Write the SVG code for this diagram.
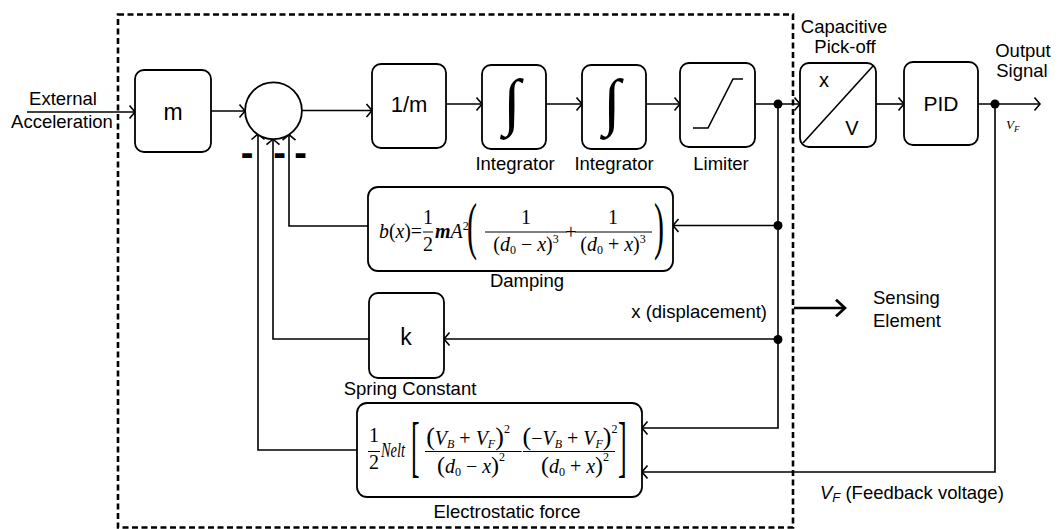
<svg xmlns="http://www.w3.org/2000/svg" width="1060" height="529" viewBox="0 0 1060 529">
<defs>
<style>
.ln{fill:none;stroke:#000;stroke-width:1.6}
.bx{fill:#fff;stroke:#000;stroke-width:1.8}
.t{font-family:"Liberation Sans",Arial,sans-serif;font-size:18.5px;fill:#000}
.tb{font-family:"Liberation Sans",Arial,sans-serif;font-size:22px;fill:#000;text-anchor:middle}
.m{font-family:"Liberation Serif","Times New Roman",serif;font-size:20px;fill:#000}
.i{font-style:italic}
.c{text-anchor:middle}
.bar{stroke:#000;stroke-width:1}
.dot{fill:#000}
.mn{font-family:"Liberation Sans",Arial,sans-serif;font-weight:bold;font-size:38px;text-anchor:middle}
.int{font-family:"Liberation Serif","Times New Roman",serif;font-size:63px;text-anchor:middle}
</style>
<marker id="ar" viewBox="-7 -8 9 16" markerWidth="9" markerHeight="16" refX="0" refY="0" orient="auto" markerUnits="userSpaceOnUse"><path d="M-5.5,-6.5 L0,0 L-5.5,6.5" fill="none" stroke="#000" stroke-width="1.6"/></marker>
<marker id="arb" viewBox="-11 -10 13 20" markerWidth="13" markerHeight="20" refX="0" refY="0" orient="auto" markerUnits="userSpaceOnUse"><path d="M-9,-8.3 L0,0 L-9,8.3" fill="none" stroke="#000" stroke-width="2.7"/></marker>
</defs>
<rect width="1060" height="529" fill="#fff"/>

<g id="boundary">
<rect x="118" y="14.5" width="675" height="513" fill="none" stroke="#000" stroke-width="2.6" stroke-dasharray="6 3.5"/>
</g>

<g id="connectors">
<line class="ln" x1="27" y1="112" x2="135" y2="112" marker-end="url(#ar)"/>
<line class="ln" x1="211" y1="111" x2="245" y2="111" marker-end="url(#ar)"/>
<line class="ln" x1="302" y1="110.5" x2="372" y2="110.5" marker-end="url(#ar)"/>
<line class="ln" x1="446" y1="104" x2="482" y2="104" marker-end="url(#ar)"/>
<line class="ln" x1="546" y1="104" x2="582" y2="104" marker-end="url(#ar)"/>
<line class="ln" x1="646" y1="104" x2="680" y2="104" marker-end="url(#ar)"/>
<line class="ln" x1="755" y1="104" x2="800" y2="104" marker-end="url(#ar)"/>
<line class="ln" x1="876" y1="104" x2="904" y2="104" marker-end="url(#ar)"/>
<line class="ln" x1="978" y1="104" x2="1040" y2="104" marker-end="url(#ar)"/>
<polyline class="ln" points="778,104 778,428 642,428" marker-end="url(#ar)"/>
<line class="ln" x1="778" y1="225.5" x2="673" y2="225.5" marker-end="url(#ar)"/>
<polyline class="ln" points="368,226 289,226 289,134.6" marker-end="url(#ar)"/>
<line class="ln" x1="778" y1="339" x2="444" y2="339" marker-end="url(#ar)"/>
<polyline class="ln" points="369,339 273,339 273,139.2" marker-end="url(#ar)"/>
<polyline class="ln" points="357,450 258,450 258,134" marker-end="url(#ar)"/>
<polyline class="ln" points="995,104 995,472 642,472" marker-end="url(#ar)"/>
<circle class="dot" cx="778" cy="104" r="4.5"/>
<circle class="dot" cx="778" cy="225.5" r="4.5"/>
<circle class="dot" cx="778" cy="339.5" r="4.5"/>
<circle class="dot" cx="995" cy="104" r="4.5"/>
</g>

<g id="external-acceleration">
<text class="t c" x="63" y="105">External</text>
<text class="t c" x="62" y="128">Acceleration</text>
</g>

<g id="mass">
<rect class="bx" x="135" y="70" width="76" height="82" rx="9"/>
<text class="tb" x="173" y="120" style="font-size:23px">m</text>
</g>

<g id="summing-junction">
<circle cx="273.5" cy="110.8" r="28.4" fill="#fff" stroke="#000" stroke-width="1.8"/>
<text class="mn" x="247" y="166">-</text>
<text class="mn" x="279.5" y="166">-</text>
<text class="mn" x="300.5" y="166">-</text>
</g>

<g id="inverse-mass">
<rect class="bx" x="372" y="64" width="74" height="84" rx="9"/>
<text class="tb" x="409" y="112">1/m</text>
</g>

<g id="integrator-1">
<rect class="bx" x="482" y="65" width="64" height="84" rx="9"/>
<text class="int" x="512" y="122.5">∫</text>
<text class="t c" x="515" y="170">Integrator</text>
</g>

<g id="integrator-2">
<rect class="bx" x="582" y="65" width="64" height="84" rx="9"/>
<text class="int" x="612" y="122.5">∫</text>
<text class="t c" x="614" y="170">Integrator</text>
</g>

<g id="limiter">
<rect class="bx" x="680" y="63" width="75" height="84" rx="9"/>
<path class="ln" d="M693,128 H708 L733,79 H743"/>
<text class="t c" x="721" y="170">Limiter</text>
</g>

<g id="capacitive-pickoff">
<rect class="bx" x="800" y="63" width="76" height="84" rx="9"/>
<line class="ln" x1="803" y1="143" x2="873" y2="66"/>
<text class="tb" x="824" y="87" style="font-size:20px">x</text>
<text class="tb" x="852" y="135" style="font-size:20px">V</text>
<text class="t c" x="844" y="33">Capacitive</text>
<text class="t c" x="845" y="53">Pick-off</text>
</g>

<g id="pid">
<rect class="bx" x="904" y="62" width="74" height="83" rx="9"/>
<text class="tb" x="941" y="111" style="font-size:21px">PID</text>
</g>

<g id="output-signal">
<text class="t c" x="1023" y="57">Output</text>
<text class="t c" x="1022" y="77">Signal</text>
<text class="m i" x="1006" y="129" style="font-size:13px">V<tspan font-size="9" dy="3">F</tspan></text>
</g>

<g id="damping">
<rect class="bx" x="368" y="187" width="305" height="84" rx="10"/>
<text class="m" x="379" y="238" textLength="43" lengthAdjust="spacingAndGlyphs"><tspan class="i">b</tspan>(<tspan class="i">x</tspan>)=</text>
<text class="m c" x="428" y="224">1</text>
<line class="bar" x1="423" y1="232" x2="433" y2="232"/>
<text class="m c" x="428" y="251">2</text>
<text class="m" x="435" y="238"><tspan class="i" font-weight="bold">m</tspan><tspan class="i">A</tspan><tspan font-size="12" dy="-8">2</tspan></text>
<text class="m" transform="translate(467,246.5) scale(1.5,3.2)">(</text>
<text class="m c" x="526" y="224">1</text>
<line class="bar" x1="485" y1="232" x2="567" y2="232"/>
<text class="m c" x="526" y="251">(<tspan class="i">d</tspan><tspan font-size="12" dy="3">0</tspan><tspan dy="-3"> − </tspan><tspan class="i">x</tspan>)<tspan font-size="12" dy="-8">3</tspan></text>
<text class="m c" x="571" y="239">+</text>
<text class="m c" x="613" y="224">1</text>
<line class="bar" x1="575" y1="232" x2="652" y2="232"/>
<text class="m c" x="613" y="251">(<tspan class="i">d</tspan><tspan font-size="12" dy="3">0</tspan><tspan dy="-3"> + </tspan><tspan class="i">x</tspan>)<tspan font-size="12" dy="-8">3</tspan></text>
<text class="m" transform="translate(654,246.5) scale(1.5,3.2)">)</text>
<text class="t c" x="527" y="287">Damping</text>
</g>

<g id="spring">
<rect class="bx" x="369" y="293" width="75" height="85" rx="9"/>
<text class="tb" x="406" y="345" style="font-size:23px">k</text>
<text class="t c" x="410" y="395">Spring Constant</text>
</g>

<g id="displacement-label">
<text class="t" x="767" y="318" text-anchor="end">x (displacement)</text>
</g>

<g id="electrostatic">
<rect class="bx" x="357" y="403" width="285" height="94" rx="10"/>
<text class="m c" x="374" y="442">1</text>
<line class="bar" x1="368" y1="451.5" x2="380" y2="451.5"/>
<text class="m c" x="374" y="469">2</text>
<text class="m i" x="381" y="457" textLength="24" lengthAdjust="spacingAndGlyphs">Nelt</text>
<text class="m" transform="translate(411,469) scale(1.3,3.4)">[</text>
<text class="m c" x="468" y="445"><tspan font-size="26">(</tspan><tspan class="i">V</tspan><tspan class="i" font-size="12" dy="3">B</tspan><tspan dy="-3"> + </tspan><tspan class="i">V</tspan><tspan class="i" font-size="12" dy="3">F</tspan><tspan font-size="26" dy="-3">)</tspan><tspan font-size="12" dy="-12">2</tspan></text>
<line class="bar" x1="425" y1="451.5" x2="513" y2="451.5"/>
<text class="m c" x="471" y="473"><tspan font-size="24">(</tspan><tspan class="i">d</tspan><tspan font-size="12" dy="3">0</tspan><tspan dy="-3"> − </tspan><tspan class="i">x</tspan><tspan font-size="24">)</tspan><tspan font-size="12" dy="-12">2</tspan></text>
<text class="m c" x="517" y="458">−</text>
<text class="m c" x="570" y="445"><tspan font-size="26">(</tspan>−<tspan class="i">V</tspan><tspan class="i" font-size="12" dy="3">B</tspan><tspan dy="-3"> + </tspan><tspan class="i">V</tspan><tspan class="i" font-size="12" dy="3">F</tspan><tspan font-size="26" dy="-3">)</tspan><tspan font-size="12" dy="-12">2</tspan></text>
<line class="bar" x1="523" y1="451.5" x2="615" y2="451.5"/>
<text class="m c" x="575" y="473"><tspan font-size="24">(</tspan><tspan class="i">d</tspan><tspan font-size="12" dy="3">0</tspan><tspan dy="-3"> + </tspan><tspan class="i">x</tspan><tspan font-size="24">)</tspan><tspan font-size="12" dy="-12">2</tspan></text>
<text class="m" transform="translate(618,469) scale(1.3,3.4)">]</text>
<text class="t c" x="507" y="518">Electrostatic force</text>
</g>

<g id="sensing-element">
<line x1="794" y1="308" x2="845" y2="308" stroke="#000" stroke-width="2.7" marker-end="url(#arb)"/>
<text class="t" x="873" y="304">Sensing</text>
<text class="t" x="873" y="327">Element</text>
</g>

<g id="feedback-voltage-label">
<text class="t" x="820" y="499"><tspan class="i">V</tspan><tspan class="i" font-size="13" dy="3">F</tspan><tspan dy="-3"> (Feedback voltage)</tspan></text>
</g>
</svg>
